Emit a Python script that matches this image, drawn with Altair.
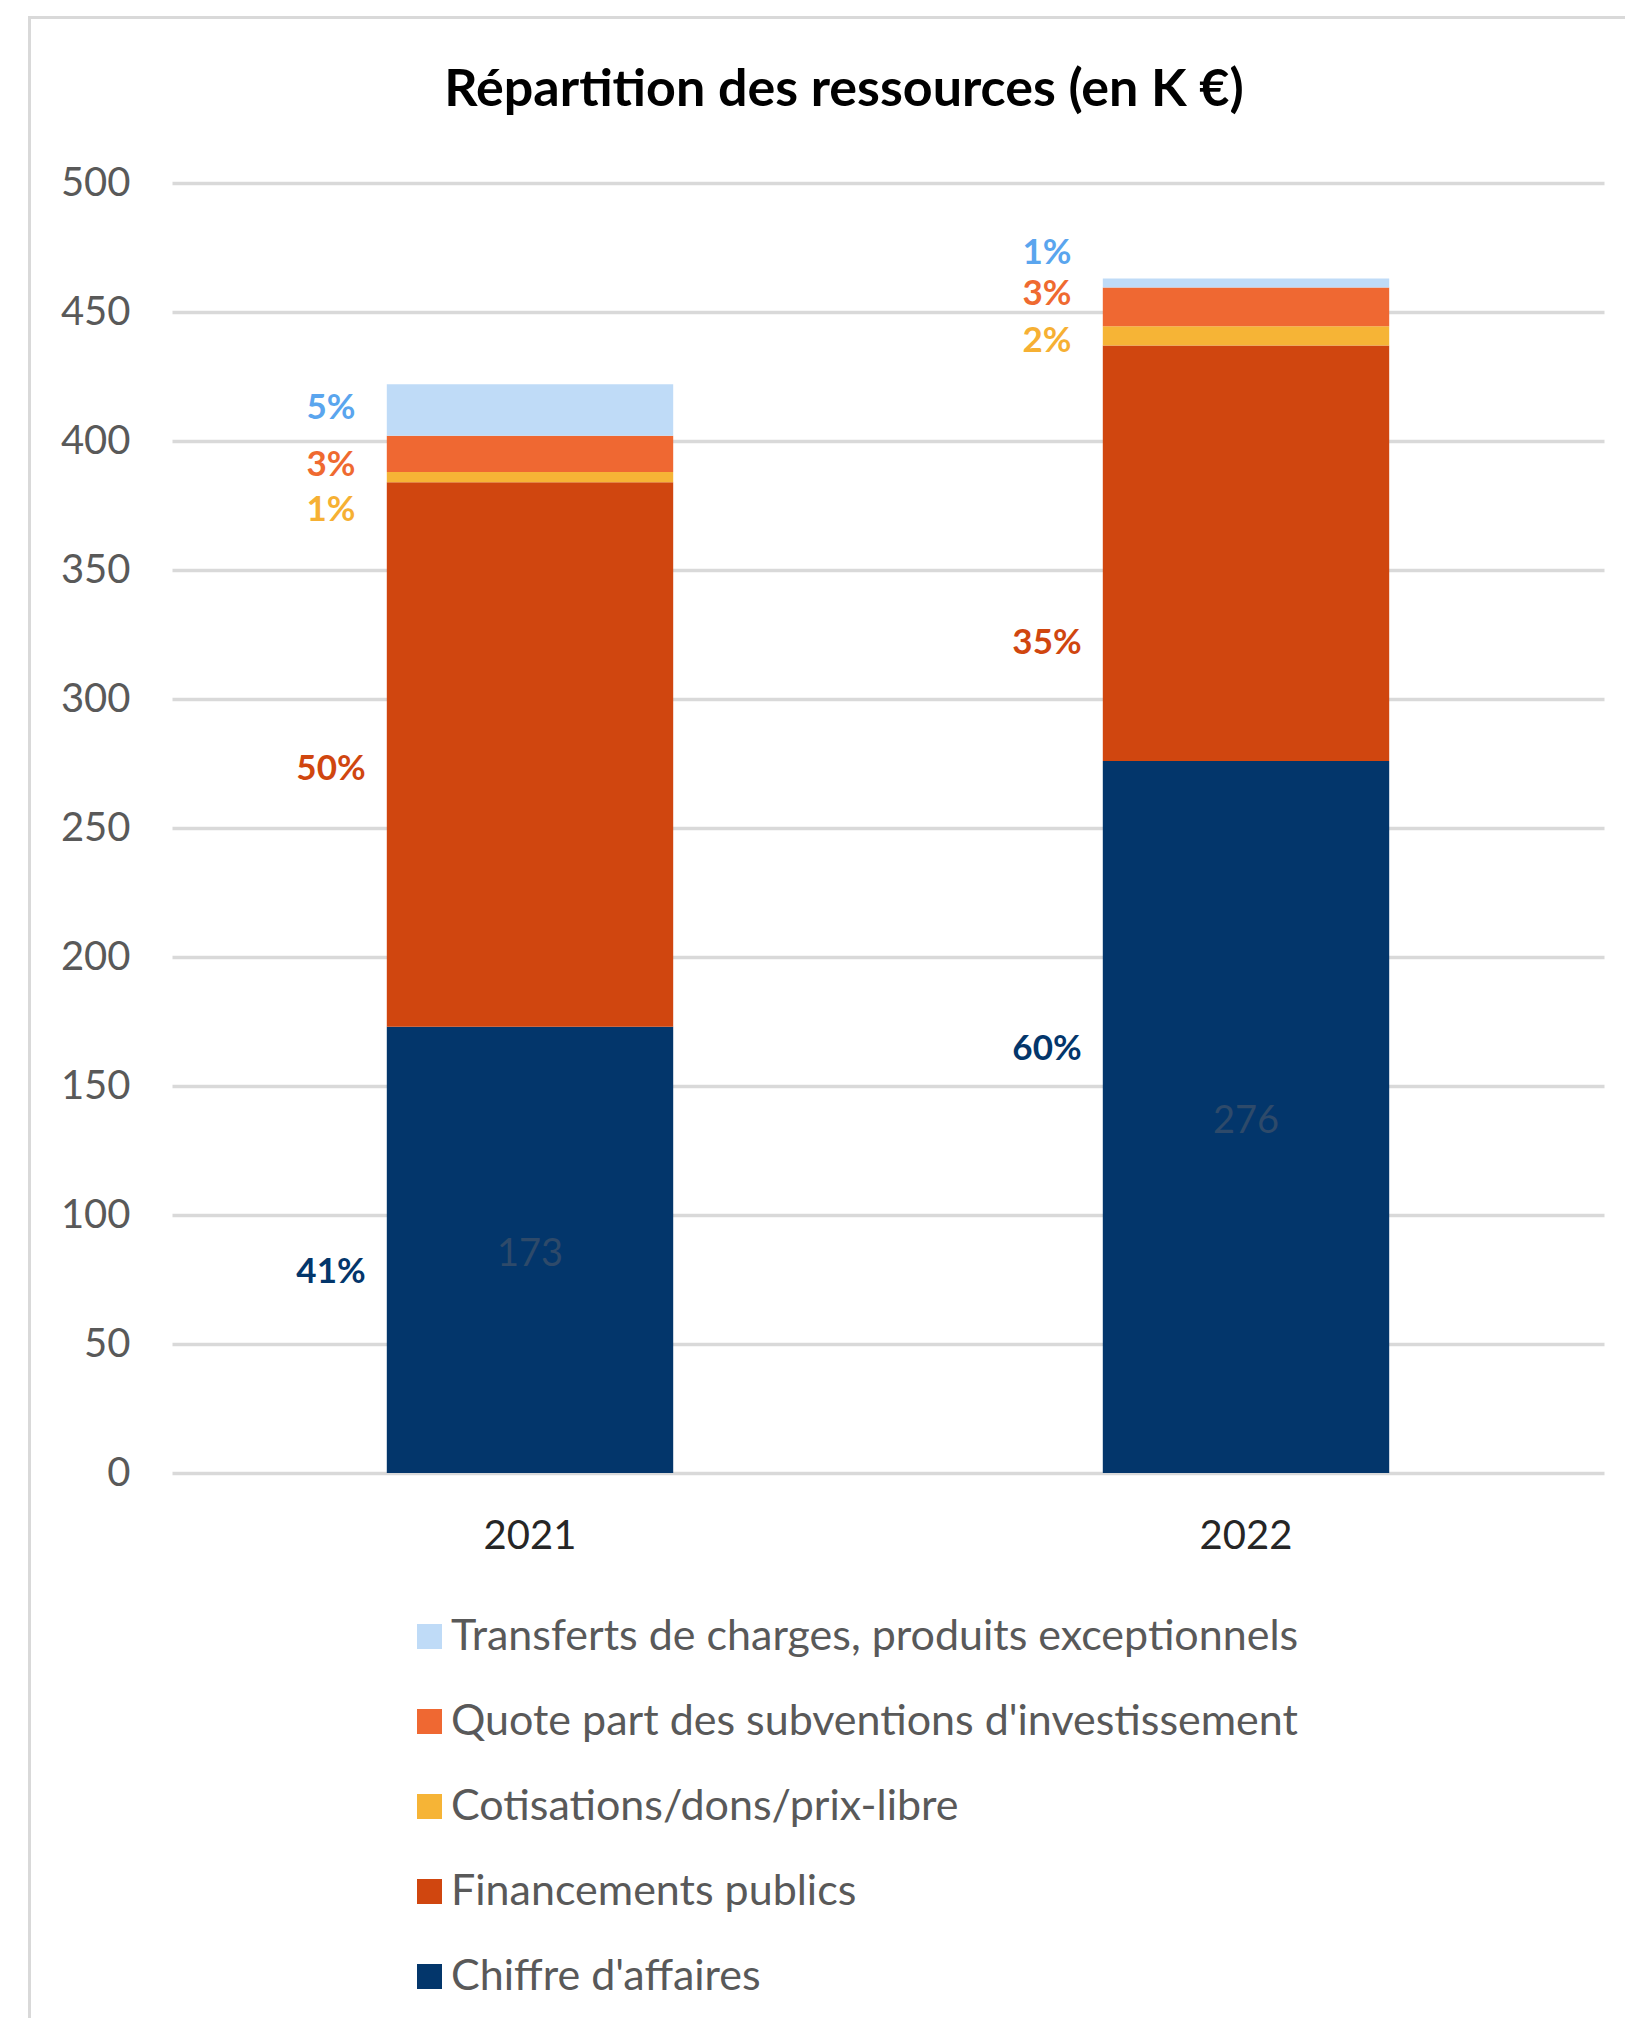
import altair as alt
import pandas as pd

years = ["2021", "2022"]
series = [
    "Chiffre d'affaires",
    "Financements publics",
    "Cotisations/dons/prix-libre",
    "Quote part des subventions d'investissement",
    "Transferts de charges, produits exceptionnels",
]
values_2021 = [173, 211, 4, 14, 20]
values_2022 = [276, 161, 7.5, 15, 3.5]
# where the percentage annotations sit, in K€
label_at_2021 = [78.7, 273.6, 374.2, 391.5, 413.6]
label_at_2022 = [165.1, 322.3, 439.7, 457.8, 473.8]
y_ticks = [0, 50, 100, 150, 200, 250, 300, 350, 400, 450, 500]

bar_colors = ["#03366b", "#d0460f", "#f6b436", "#ef6832", "#bfdbf7"]
label_colors = ["#03366b", "#d0460f", "#f6b033", "#ef6a30", "#5aa5ee"]

rows = []
for year, vals, labs in [("2021", values_2021, label_at_2021), ("2022", values_2022, label_at_2022)]:
    total = sum(vals)
    for i, (s, v, la) in enumerate(zip(series, vals, labs)):
        rows.append({
            "year": year,
            "series": s,
            "value": v,
            "idx": i,
            "pct": f"{round(v / total * 100)}%",
            "label_at": la,
            "mid": v / 2,
            "vlabel": f"{v:g}",
        })
df = pd.DataFrame(rows)

legend_order = list(reversed(series))
legend_colors = list(reversed(bar_colors))

FONT = "Lato"

x_enc = alt.X(
    "year:N",
    sort=years,
    scale=alt.Scale(paddingInner=0.6, paddingOuter=0.3),
    axis=alt.Axis(
        title=None, labelAngle=0, labelFont=FONT, labelFontSize=40,
        labelColor="#262626", ticks=False, domain=False, labelPadding=43, grid=False,
    ),
)

y_scale = alt.Scale(domain=[0, 500], nice=False)

base = alt.Chart(df)

bars = base.mark_bar().encode(
    x=x_enc,
    y=alt.Y(
        "value:Q", stack="zero", scale=y_scale,
        axis=alt.Axis(
            title=None, values=y_ticks, labelFont=FONT, labelFontSize=40,
            labelColor="#595959", labelPadding=42, ticks=False, domain=False,
            gridColor="#d9d9d9", gridWidth=3.5,
        ),
    ),
    color=alt.Color(
        "series:N",
        scale=alt.Scale(domain=legend_order, range=legend_colors),
        legend=alt.Legend(
            title=None, orient="none", legendX=236, legendY=1432,
            direction="vertical", symbolType="square", symbolSize=625,
            symbolStrokeWidth=0, symbolOpacity=1, labelFont=FONT,
            labelFontSize=43, labelColor="#595959", labelOffset=0,
            rowPadding=41, labelLimit=1300,
        ),
    ),
    order=alt.Order("idx:Q", sort="ascending"),
)

pct = base.mark_text(
    align="center", baseline="middle", dx=-199, dy=2, font=FONT,
    fontWeight="bold", fontSize=35,
).encode(
    x=alt.X("year:N", sort=years),
    y=alt.Y("label_at:Q", stack=None, scale=y_scale),
    text="pct:N",
    color=alt.Color(
        "series:N",
        scale=alt.Scale(domain=series, range=label_colors),
        legend=None,
    ),
)

vlab = base.transform_filter(alt.datum.idx == 0).mark_text(
    align="center", baseline="middle", dy=5, font=FONT, fontSize=38, color="#2e4a6a",
).encode(
    x=alt.X("year:N", sort=years),
    y=alt.Y("mid:Q", stack=None, scale=y_scale),
    text="vlabel:N",
)

frame_df = pd.DataFrame({"k": [0]})
frame_left = alt.Chart(frame_df).mark_rule(color="#d9d9d9", strokeWidth=3).encode(
    x=alt.value(-142.5), y=alt.value(-167), y2=alt.value(1840)
)
frame_top = alt.Chart(frame_df).mark_rule(color="#d9d9d9", strokeWidth=3).encode(
    x=alt.value(-144), x2=alt.value(1470), y=alt.value(-165.5)
)

chart = alt.layer(frame_left, frame_top, bars, pct, vlab).resolve_scale(
    color="independent"
).properties(
    width=1432,
    height=1290,
    autosize=alt.AutoSizeParams(type="none"),
    padding={"left": 164, "top": 175, "right": 21, "bottom": 545},
    background="white",
    title=alt.TitleParams(
        "Répartition des ressources (en K €)", font=FONT, fontSize=52,
        fontWeight="bold", color="#000000", anchor="middle", dx=-44,
        baseline="alphabetic", offset=-143,
    ),
).configure_view(strokeWidth=0)

chart.save("out.html", embed_options={"renderer": "svg", "actions": False})
